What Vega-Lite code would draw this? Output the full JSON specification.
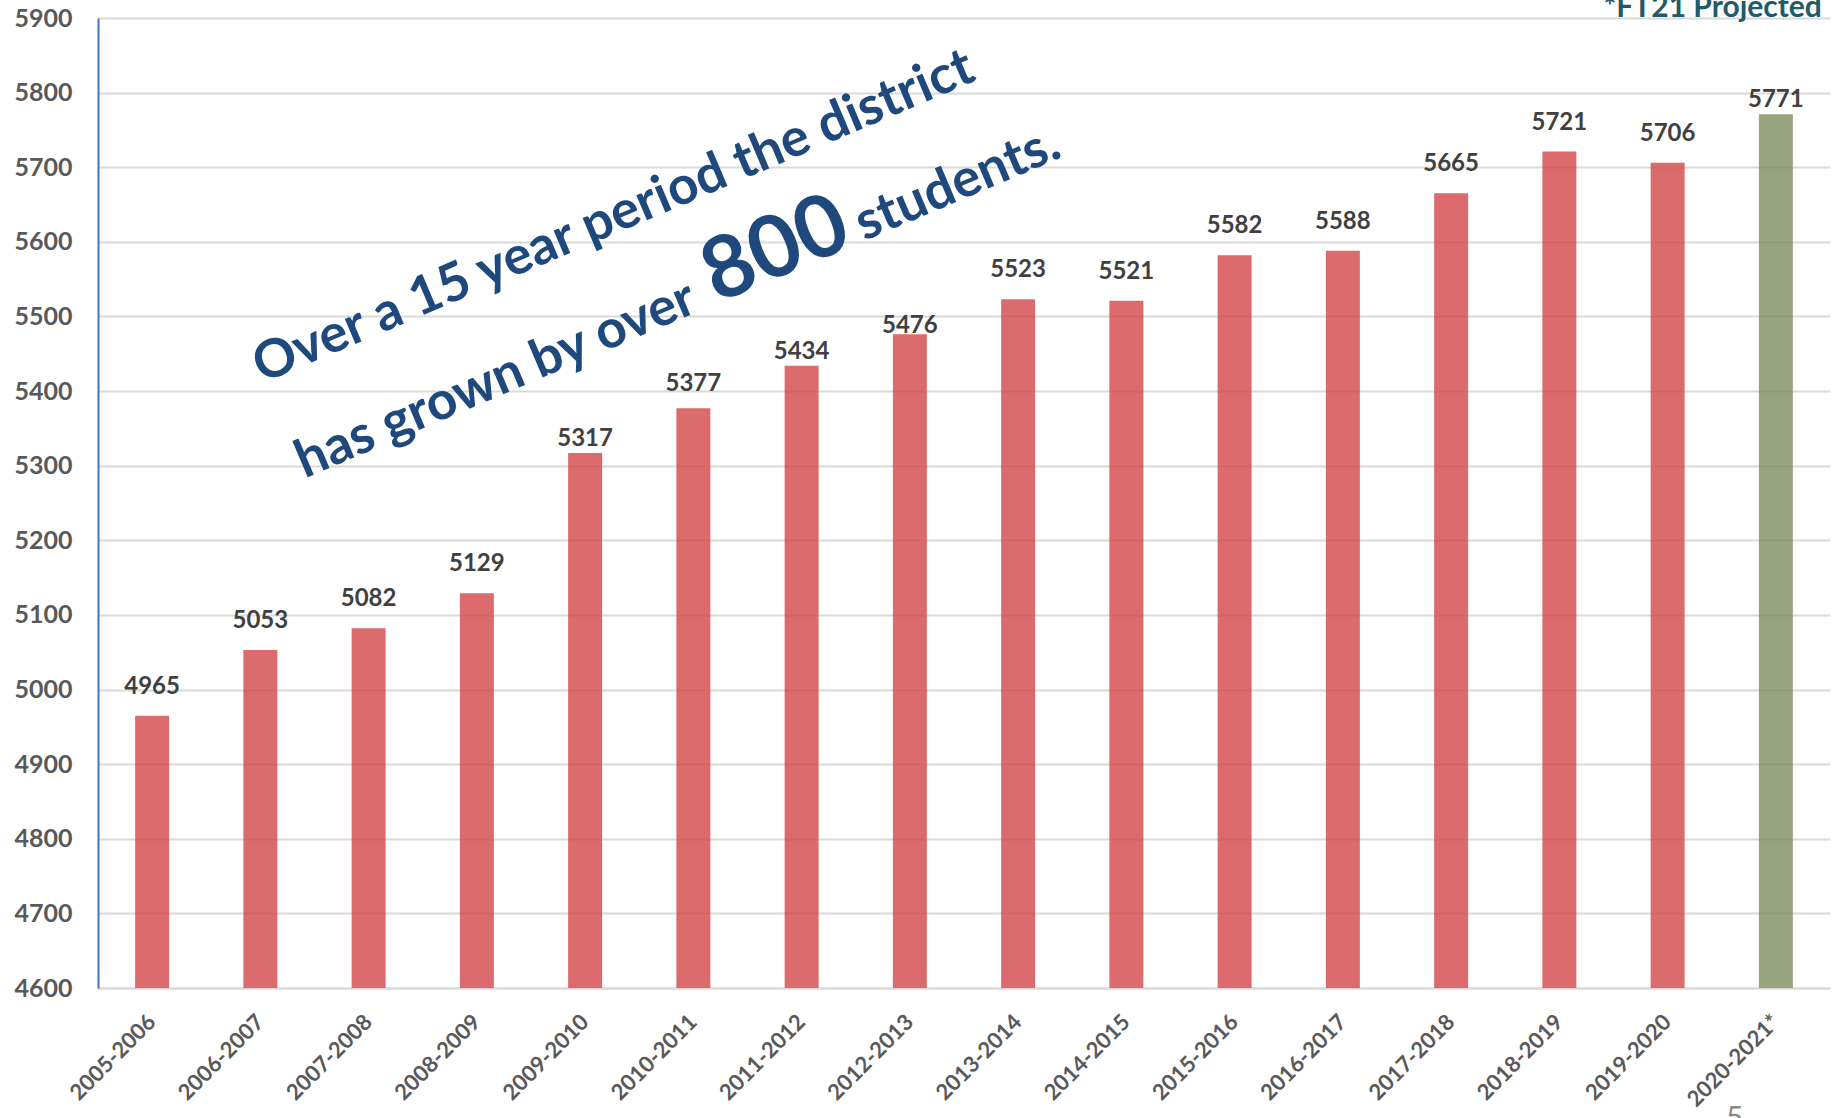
{
  "$schema": "https://vega.github.io/schema/vega-lite/v6.json",
  "width": 1732,
  "height": 970,
  "autosize": {"type": "none"},
  "padding": {"left": 98, "top": 18, "right": 2, "bottom": 130},
  "background": "white",
  "config": {"view": {"stroke": null}, "font": "Lato"},
  "datasets": {
    "enroll": [
      {"year": "2005-2006", "students": 4965, "type": "actual"},
      {"year": "2006-2007", "students": 5053, "type": "actual"},
      {"year": "2007-2008", "students": 5082, "type": "actual"},
      {"year": "2008-2009", "students": 5129, "type": "actual"},
      {"year": "2009-2010", "students": 5317, "type": "actual"},
      {"year": "2010-2011", "students": 5377, "type": "actual"},
      {"year": "2011-2012", "students": 5434, "type": "actual"},
      {"year": "2012-2013", "students": 5476, "type": "actual"},
      {"year": "2013-2014", "students": 5523, "type": "actual"},
      {"year": "2014-2015", "students": 5521, "type": "actual"},
      {"year": "2015-2016", "students": 5582, "type": "actual"},
      {"year": "2016-2017", "students": 5588, "type": "actual"},
      {"year": "2017-2018", "students": 5665, "type": "actual"},
      {"year": "2018-2019", "students": 5721, "type": "actual"},
      {"year": "2019-2020", "students": 5706, "type": "actual"},
      {"year": "2020-2021*", "students": 5771, "type": "projected"}
    ],
    "note": [
      {"part": "line1", "text": "Over a 15 year period the district", "year": "2006-2007", "students": 5409},
      {"part": "line2a", "text": "has grown by over", "year": "2006-2007", "students": 5409},
      {"part": "big", "text": "800", "year": "2006-2007", "students": 5409},
      {"part": "line2b", "text": "students.", "year": "2006-2007", "students": 5409},
      {"part": "projected", "text": "*FT21 Projected", "year": "2020-2021*", "students": 5900},
      {"part": "page", "text": "5", "year": "2019-2020", "students": 4412}
    ]
  },
  "encoding": {
    "x": {
      "field": "year",
      "type": "nominal",
      "scale": {
        "domain": ["2005-2006", "2006-2007", "2007-2008", "2008-2009", "2009-2010", "2010-2011", "2011-2012", "2012-2013", "2013-2014", "2014-2015", "2015-2016", "2016-2017", "2017-2018", "2018-2019", "2019-2020", "2020-2021*"],
        "paddingInner": 0.686,
        "paddingOuter": 0.343
      },
      "axis": {
        "title": null,
        "labelAngle": -45,
        "labelAlign": "right",
        "labelBaseline": "middle",
        "labelFont": "Lato",
        "labelFontSize": 22,
        "labelFontWeight": "bold",
        "labelColor": "#595959",
        "labelPadding": 30,
        "ticks": false,
        "grid": false,
        "domainColor": "#d9d9d9",
        "domainWidth": 2
      }
    },
    "y": {
      "field": "students",
      "type": "quantitative",
      "scale": {"domain": [4600, 5900], "nice": false, "zero": false},
      "axis": {
        "title": null,
        "format": "d",
        "values": [4600, 4700, 4800, 4900, 5000, 5100, 5200, 5300, 5400, 5500, 5600, 5700, 5800, 5900],
        "labelFont": "Lato",
        "labelFontSize": 25,
        "labelFontWeight": "bold",
        "labelColor": "#595959",
        "labelPadding": 26,
        "ticks": false,
        "domainColor": "#4472c4",
        "domainWidth": 2,
        "gridColor": "#d9d9d9",
        "gridWidth": 2
      }
    }
  },
  "layer": [
    {
      "data": {"name": "enroll"},
      "mark": {"type": "bar", "opacity": 0.8},
      "encoding": {
        "y2": {"datum": 4600},
        "color": {
          "field": "type",
          "type": "nominal",
          "scale": {"domain": ["actual", "projected"], "range": ["#d34648", "#7e8d5e"]},
          "legend": null
        }
      }
    },
    {
      "data": {"name": "enroll"},
      "transform": [{"filter": {"not": {"field": "year", "oneOf": ["2009-2010", "2010-2011", "2011-2012", "2012-2013", "2020-2021*"]}}}],
      "mark": {"type": "text", "baseline": "alphabetic", "dy": -22, "font": "Lato", "fontSize": 24, "fontWeight": "bold", "color": "#404040"},
      "encoding": {"text": {"field": "students", "type": "quantitative", "format": "d"}}
    },
    {
      "data": {"name": "enroll"},
      "transform": [{"filter": {"field": "year", "oneOf": ["2010-2011"]}}],
      "mark": {"type": "text", "baseline": "alphabetic", "dy": -17, "font": "Lato", "fontSize": 24, "fontWeight": "bold", "color": "#404040"},
      "encoding": {"text": {"field": "students", "type": "quantitative", "format": "d"}}
    },
    {
      "data": {"name": "enroll"},
      "transform": [{"filter": {"field": "year", "oneOf": ["2009-2010", "2011-2012", "2020-2021*"]}}],
      "mark": {"type": "text", "baseline": "alphabetic", "dy": -7, "font": "Lato", "fontSize": 24, "fontWeight": "bold", "color": "#404040"},
      "encoding": {"text": {"field": "students", "type": "quantitative", "format": "d"}}
    },
    {
      "data": {"name": "enroll"},
      "transform": [{"filter": {"field": "year", "oneOf": ["2012-2013"]}}],
      "mark": {"type": "text", "baseline": "alphabetic", "dy": -1, "font": "Lato", "fontSize": 24, "fontWeight": "bold", "color": "#404040"},
      "encoding": {"text": {"field": "students", "type": "quantitative", "format": "d"}}
    },
    {
      "data": {"name": "note"},
      "transform": [{"filter": "datum.part == 'line1'"}],
      "mark": {"type": "text", "angle": -23, "align": "left", "baseline": "alphabetic", "dx": 2, "dy": 0, "font": "Lato", "fontSize": 53, "fontWeight": "bold", "color": "#1f497d"},
      "encoding": {"text": {"field": "text"}}
    },
    {
      "data": {"name": "note"},
      "transform": [{"filter": "datum.part == 'line2a'"}],
      "mark": {"type": "text", "angle": -23, "align": "left", "baseline": "alphabetic", "dx": 4, "dy": 104, "font": "Lato", "fontSize": 53, "fontWeight": "bold", "color": "#1f497d"},
      "encoding": {"text": {"field": "text"}}
    },
    {
      "data": {"name": "note"},
      "transform": [{"filter": "datum.part == 'big'"}],
      "mark": {"type": "text", "angle": -23, "align": "left", "baseline": "alphabetic", "dx": 452, "dy": 104, "font": "Lato", "fontSize": 86, "fontWeight": "bold", "color": "#1f497d"},
      "encoding": {"text": {"field": "text"}}
    },
    {
      "data": {"name": "note"},
      "transform": [{"filter": "datum.part == 'line2b'"}],
      "mark": {"type": "text", "angle": -23, "align": "left", "baseline": "alphabetic", "dx": 612, "dy": 104, "font": "Lato", "fontSize": 53, "fontWeight": "bold", "color": "#1f497d"},
      "encoding": {"text": {"field": "text"}}
    },
    {
      "data": {"name": "note"},
      "transform": [{"filter": "datum.part == 'projected'"}],
      "mark": {"type": "text", "align": "right", "baseline": "alphabetic", "dx": 46, "dy": -1, "font": "Lato", "fontSize": 30, "fontWeight": "bold", "color": "#215a6b"},
      "encoding": {"text": {"field": "text"}}
    },
    {
      "data": {"name": "note"},
      "transform": [{"filter": "datum.part == 'page'"}],
      "mark": {"type": "text", "align": "center", "baseline": "alphabetic", "dx": 67, "font": "Lato", "fontSize": 30, "color": "#898989"},
      "encoding": {"text": {"field": "text"}}
    }
  ]
}
